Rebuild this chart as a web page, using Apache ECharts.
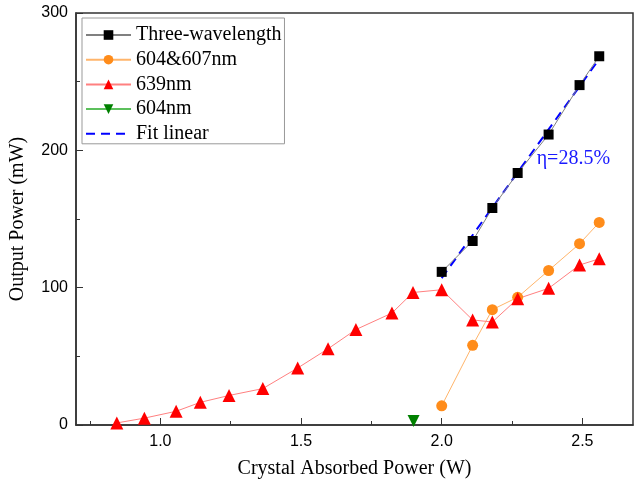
<!DOCTYPE html>
<html>
<head>
<meta charset="utf-8">
<script src="https://cdn.jsdelivr.net/npm/echarts@6/dist/echarts.min.js"></script>
<style>
  html, body { margin: 0; padding: 0; background: #fff; }
  #chart { width: 643px; height: 484px; }
</style>
</head>
<body>
<div id="chart"></div>
<script>
// absorbed power (W) for the upper branch
var xHigh = [2.0, 2.11, 2.18, 2.27, 2.38, 2.49, 2.56];
var threeWave = [111.5, 134, 158, 183.5, 211.5, 247.5, 268.5];
var orange604607 = [14, 58, 84, 93, 112.5, 132, 147.5];

// 639nm series
var x639 = [0.845, 0.943, 1.056, 1.142, 1.244, 1.364, 1.488, 1.596, 1.695, 1.823, 1.898, 2.0,
            2.11, 2.18, 2.27, 2.38, 2.49, 2.56];
var y639 = [1.5, 5, 10, 16.5, 21.5, 26.5, 41.5, 55.5, 69.5, 81.5, 96.5, 98.5,
            76.5, 75, 92, 99.5, 116.5, 121];

var x604 = [1.9];
var y604 = [3];

// linear fit endpoints
var fitX = [2.0, 2.56];
var fitY = [107, 266.5];

var xMajor = [1.0, 1.5, 2.0, 2.5];
var xMinor = [0.75, 1.25, 1.75, 2.25];

function pairs(xs, ys) {
  var out = [];
  for (var i = 0; i < xs.length; i++) out.push([xs[i], ys[i]]);
  return out;
}

var serif = 'Liberation Serif';
var sans = 'Liberation Sans';

var chart = echarts.init(document.getElementById('chart'));
var option = {
  backgroundColor: '#fff',
  animation: false,
  grid: {
    left: 73, right: 10, top: 13, bottom: 59,
    show: true, borderColor: '#333', borderWidth: 1.5
  },
  legend: {
    left: 82, top: 18,
    orient: 'vertical',
    borderColor: '#999', borderWidth: 1,
    padding: [7, 3, 0, 3],
    itemWidth: 45, itemHeight: 12, itemGap: 4.7,
    textStyle: { fontFamily: serif, fontSize: 20, color: '#000' },
    data: ['Three-wavelength', '604&607nm', '639nm', '604nm',
      { name: 'Fit linear', itemStyle: { opacity: 0 } }]
  },
  xAxis: [{
    type: 'value', min: 0.7, max: 2.68,
    name: 'Crystal Absorbed Power (W)', nameLocation: 'middle', nameGap: 34,
    nameTextStyle: { fontFamily: serif, fontSize: 20, color: '#000' },
    axisLine: { lineStyle: { color: '#333', width: 1.5 } },
    axisTick: { inside: true, length: 7, customValues: xMajor, lineStyle: { color: '#333' } },
    axisLabel: { customValues: xMajor, margin: 9, fontFamily: sans, fontSize: 16, color: '#000',
      formatter: function (v) { return v.toFixed(1); } },
    splitLine: { show: false }
  }, {
    type: 'value', min: 0.7, max: 2.68, position: 'bottom',
    axisLine: { show: false },
    axisTick: { inside: true, length: 4, customValues: xMinor, lineStyle: { color: '#333' } },
    axisLabel: { show: false },
    splitLine: { show: false }
  }],
  yAxis: {
    type: 'value', min: 0, max: 300, interval: 100,
    name: 'Output Power (mW)', nameLocation: 'middle', nameGap: 48,
    nameTextStyle: { fontFamily: serif, fontSize: 20, color: '#000' },
    axisLine: { show: true, lineStyle: { color: '#333', width: 1.5 } },
    axisTick: { inside: true, length: 7, lineStyle: { color: '#333' } },
    minorTick: { show: true, splitNumber: 2, length: 4, lineStyle: { color: '#333' } },
    axisLabel: { margin: 8, fontFamily: sans, fontSize: 16, color: '#000' },
    splitLine: { show: false }
  },
  series: [{
    name: 'Three-wavelength', type: 'line', data: pairs(xHigh, threeWave), z: 3,
    symbol: 'rect', symbolSize: 10,
    itemStyle: { color: '#000' },
    lineStyle: { color: '#808080', width: 1 }
  }, {
    name: '604&607nm', type: 'line', data: pairs(xHigh, orange604607), z: 3,
    symbol: 'circle', symbolSize: 11,
    itemStyle: { color: '#ff8c1a' },
    lineStyle: { color: '#ffb56b', width: 1 }
  }, {
    name: '639nm', type: 'line', data: pairs(x639, y639), z: 3,
    symbol: 'triangle', symbolSize: 13,
    itemStyle: { color: '#ff0000' },
    lineStyle: { color: '#ff8080', width: 1 }
  }, {
    name: '604nm', type: 'line', data: pairs(x604, y604), z: 3,
    symbol: 'triangle', symbolRotate: 180, symbolSize: 12,
    itemStyle: { color: '#008000' },
    lineStyle: { color: '#5cc05c', width: 1 }
  }, {
    name: 'Fit linear', type: 'line', data: pairs(fitX, fitY), z: 2,
    symbol: 'none',
    itemStyle: { color: '#0000ff' },
    lineStyle: { color: '#0000ff', width: 2, type: [9, 6] },
    markPoint: {
      symbol: 'circle', symbolSize: 0,
      label: { show: true, formatter: 'η=28.5%', fontFamily: serif, fontSize: 20, color: '#1a1aff' },
      data: [{ coord: [2.468, 194] }]
    }
  }]
};
chart.setOption(option);
</script>
</body>
</html>
